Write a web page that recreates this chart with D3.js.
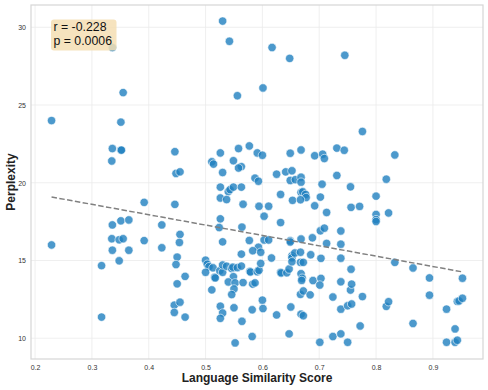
<!DOCTYPE html>
<html>
<head>
<meta charset="utf-8">
<script src="https://cdn.jsdelivr.net/npm/d3@7"></script>
<style>
  html, body { margin: 0; padding: 0; background: #ffffff; }
  svg { display: block; font-family: "Liberation Sans", Arial, sans-serif; }
</style>
</head>
<body>
<svg id="chart" width="488" height="390"></svg>
<script>
// ---- Data ----
const similarity = [
  0.229,0.336,0.355,0.351,0.530,0.542,0.617,0.648,0.556,0.601,0.745,0.776,
  0.336,0.351,0.352,0.335,0.446,0.448,0.455,0.511,0.514,0.526,0.530,0.558,
  0.577,0.591,0.600,0.549,0.563,0.558,0.587,0.593,0.526,0.540,0.543,0.549,
  0.563,0.526,0.537,0.566,0.594,0.611,0.603,0.526,0.524,0.564,0.632,0.625,
  0.641,0.652,0.649,0.668,0.649,0.658,0.668,0.668,0.632,0.653,0.668,0.671,
  0.676,0.677,0.667,0.692,0.706,0.709,0.705,0.702,0.692,0.713,0.731,0.744,
  0.731,0.755,0.756,0.771,0.833,0.818,0.800,0.800,0.800,0.800,0.822,0.702,
  0.709,0.738,0.688,0.668,0.649,0.649,0.713,0.738,0.392,0.446,0.423,0.336,
  0.351,0.365,0.335,0.348,0.355,0.392,0.455,0.454,0.229,0.423,0.336,0.365,
  0.530,0.577,0.603,0.611,0.593,0.583,0.597,0.563,0.616,
  0.317,0.317,0.348,0.450,0.448,0.450,0.464,0.445,0.455,0.445,0.464,0.500,
  0.503,0.506,0.513,0.500,0.516,0.517,0.525,0.530,0.530,0.537,0.546,0.548,
  0.549,0.556,0.563,0.578,0.579,0.591,0.594,0.597,0.540,0.552,0.566,0.583,
  0.587,0.550,0.546,0.511,0.526,0.530,0.526,0.550,0.564,0.582,0.600,0.601,
  0.582,0.552,0.625,0.632,0.633,0.643,0.647,0.652,0.652,0.652,0.657,0.667,
  0.667,0.672,0.650,0.647,0.668,0.670,0.669,0.667,0.672,0.668,0.672,0.685,
  0.689,0.684,0.703,0.703,0.701,0.701,0.724,0.724,0.738,0.738,0.738,0.738,
  0.750,0.756,0.755,0.757,0.750,0.757,0.772,0.776,0.818,0.822,0.833,0.865,
  0.865,0.894,0.894,0.924,0.924,0.939,0.939,0.943,0.943,0.946,0.952,0.952
];
const perplexity = [
  24.0,28.7,25.8,23.9,30.4,29.1,28.7,28.0,25.6,26.1,28.2,23.3,
  22.2,22.1,22.1,21.4,22.0,20.6,20.7,21.35,21.2,21.92,20.66,22.2,
  22.37,21.92,21.77,21.42,21.04,20.95,20.3,20.1,19.72,19.43,19.56,19.72,
  19.72,19.02,18.92,18.62,18.49,18.49,17.85,17.68,17.12,17.15,17.44,20.55,
  20.70,20.77,21.90,22.11,20.15,20.20,20.36,20.04,19.25,18.87,19.38,19.42,
  19.25,19.05,18.91,21.74,21.84,21.56,19.91,19.08,18.52,18.09,22.23,22.09,
  20.47,19.74,18.42,18.48,21.79,20.23,19.14,17.96,17.63,17.51,18.06,16.91,
  17.08,16.90,16.46,16.38,16.27,16.19,16.10,16.05,18.74,18.61,17.29,17.29,
  17.55,17.61,16.40,16.33,16.40,16.28,16.68,16.16,16.0,15.82,15.66,15.66,
  16.20,16.29,16.32,16.32,15.85,15.63,15.53,15.41,15.16,
  14.67,11.36,14.98,15.22,14.74,13.50,13.98,12.13,12.32,11.66,11.36,15.02,
  14.76,14.60,14.53,14.24,13.92,13.88,14.34,14.24,14.71,14.63,14.48,14.57,
  13.96,14.54,14.64,14.30,14.26,14.28,14.37,14.81,13.62,13.56,13.58,13.48,
  13.56,13.17,12.81,13.11,12.06,11.62,11.28,11.96,11.09,11.83,12.45,11.91,
  10.11,9.70,11.50,14.24,14.20,14.21,14.45,15.31,15.18,14.92,15.48,15.53,
  14.88,14.88,12.01,10.28,14.15,13.86,13.72,12.82,13.04,11.55,11.45,15.37,
  13.71,12.79,15.14,13.85,13.42,9.74,12.65,10.11,15.15,13.63,11.87,10.28,
  9.74,14.44,13.10,13.48,12.09,12.20,10.79,12.68,12.05,12.35,14.88,14.52,
  10.95,13.88,12.77,11.87,9.74,10.60,9.74,9.87,12.37,12.40,12.57,13.86
];
const xTicks = [0.2, 0.3, 0.4, 0.5, 0.6, 0.7, 0.8, 0.9];
const yTicks = [10, 15, 20, 25, 30];
const statLines = ["r = -0.228", "p = 0.0006"];
const xTitle = "Language Similarity Score";
const yTitle = "Perplexity";

// ---- Layout ----
const W = 488, H = 390;
const margin = { left: 31, right: 5, top: 5, bottom: 31 };
const pw = W - margin.left - margin.right;
const ph = H - margin.top - margin.bottom;

const points = similarity.map((x, i) => ({ x, y: perplexity[i] }));

const xExt = d3.extent(similarity), yExt = d3.extent(perplexity);
const xPad = (xExt[1] - xExt[0]) * 0.05, yPad = (yExt[1] - yExt[0]) * 0.05;
const x = d3.scaleLinear().domain([xExt[0] - xPad, xExt[1] + xPad]).range([0, pw]);
const y = d3.scaleLinear().domain([yExt[0] - yPad, yExt[1] + yPad]).range([ph, 0]);

const svg = d3.select("#chart");
const g = svg.append("g").attr("transform", `translate(${margin.left},${margin.top})`);

// grid
g.append("g").selectAll("line").data(xTicks).join("line")
  .attr("x1", d => x(d)).attr("x2", d => x(d)).attr("y1", 0).attr("y2", ph)
  .attr("stroke", "#ebebeb").attr("stroke-width", 0.8);
g.append("g").selectAll("line").data(yTicks).join("line")
  .attr("x1", 0).attr("x2", pw).attr("y1", d => y(d)).attr("y2", d => y(d))
  .attr("stroke", "#ebebeb").attr("stroke-width", 0.8);

// axes (labels only)
const xAxis = g.append("g").attr("transform", `translate(0,${ph})`)
  .call(d3.axisBottom(x).tickValues(xTicks).tickSize(0).tickPadding(6).tickFormat(d3.format(".1f")));
const yAxis = g.append("g")
  .call(d3.axisLeft(y).tickValues(yTicks).tickSize(0).tickPadding(5).tickFormat(d3.format("d")));
[xAxis, yAxis].forEach(a => {
  a.select(".domain").remove();
  a.selectAll("text").attr("font-size", 7).attr("fill", "#333333")
    .attr("font-family", "'Liberation Sans', Arial, sans-serif");
});

// frame
g.append("rect").attr("x", 0).attr("y", 0).attr("width", pw).attr("height", ph)
  .attr("fill", "none").attr("stroke", "#d6d6d6").attr("stroke-width", 1.2);

// points
g.append("g").selectAll("circle").data(points).join("circle")
  .attr("cx", d => x(d.x)).attr("cy", d => y(d.y)).attr("r", 4.2)
  .attr("fill", "#1f80bf").attr("fill-opacity", 0.8)
  .attr("stroke", "#ffffff").attr("stroke-width", 0.6);

// regression line (least squares from the data)
const mx = d3.mean(similarity), my = d3.mean(perplexity);
let sxy = 0, sxx = 0;
points.forEach(p => { sxy += (p.x - mx) * (p.y - my); sxx += (p.x - mx) ** 2; });
const slope = sxy / sxx, intercept = my - slope * mx;
const lineX = [xExt[0], xExt[1]];
g.append("path")
  .attr("d", d3.line().x(d => x(d)).y(d => y(intercept + slope * d))(lineX))
  .attr("fill", "none").attr("stroke", "#808080").attr("stroke-width", 1.5)
  .attr("stroke-dasharray", "5.5,2.4");

// annotation box
const box = g.append("g").attr("transform", "translate(20,14.5)");
box.append("rect").attr("x", 0).attr("y", 0).attr("width", 65.5).attr("height", 31)
  .attr("rx", 3).attr("fill", "#f5deb3").attr("fill-opacity", 0.85);
box.selectAll("text").data(statLines).join("text")
  .attr("x", 2.5).attr("y", (d, i) => 11.5 + i * 14)
  .attr("font-size", 12.3).attr("fill", "#111111").text(d => d);

// titles
svg.append("text").attr("x", margin.left + pw / 2).attr("y", 382)
  .attr("text-anchor", "middle").attr("font-size", 12).attr("font-weight", "bold")
  .attr("fill", "#222222").text(xTitle);
svg.append("text").attr("transform", `translate(14.5,${margin.top + ph / 2}) rotate(-90)`)
  .attr("text-anchor", "middle").attr("font-size", 12).attr("font-weight", "bold")
  .attr("fill", "#222222").text(yTitle);
</script>
</body>
</html>
